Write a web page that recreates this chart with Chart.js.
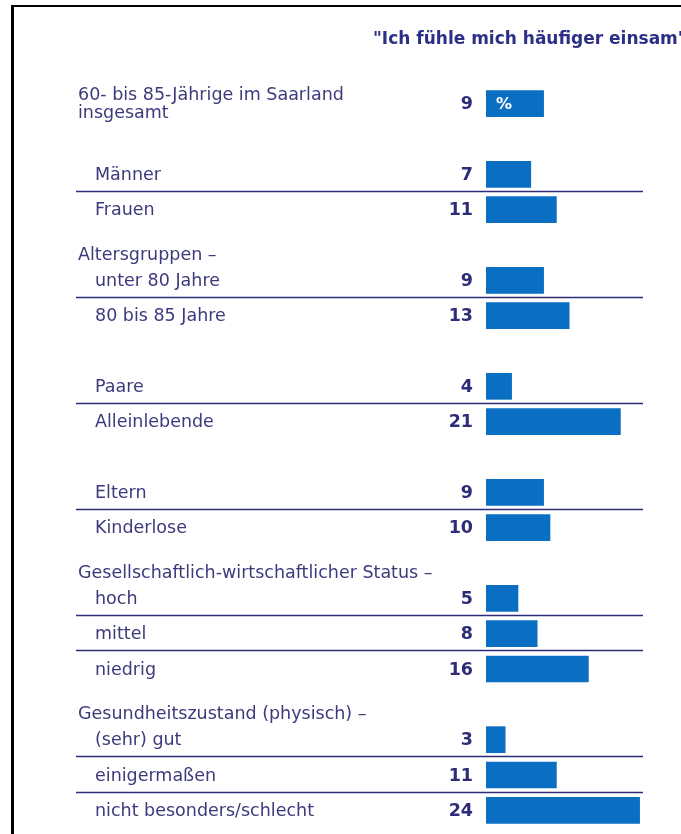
<!DOCTYPE html>
<html>
<head>
<meta charset="utf-8">
<script src="https://cdn.jsdelivr.net/npm/chart.js@4.4.1/dist/chart.umd.min.js"></script>
<style>
  body { margin: 0; background: #fff; }
  .wrap { position: relative; width: 681px; height: 834px; }
</style>
</head>
<body>
<div class="wrap"><canvas id="myChart"></canvas></div>
<script>
const title = '"Ich fühle mich häufiger einsam"'
// rows top to bottom; "" = empty gap row, a label with null value = group heading
const categories = [
  ["60- bis 85-Jährige im Saarland", "insgesamt"],
  "",
  "Männer",
  "Frauen",
  "Altersgruppen –",
  "unter 80 Jahre",
  "80 bis 85 Jahre",
  "",
  "Paare",
  "Alleinlebende",
  "",
  "Eltern",
  "Kinderlose",
  "Gesellschaftlich-wirtschaftlicher Status –",
  "hoch",
  "mittel",
  "niedrig",
  "Gesundheitszustand (physisch) –",
  "(sehr) gut",
  "einigermaßen",
  "nicht besonders/schlecht",
]
const values = [9, null, 7, 11, null, 9, 13, null, 4, 21, null, 9, 10, null, 5, 8, 16, null, 3, 11, 24]
const unit = "%"

const navy = "#2e2c78"
const labelColor = "#3c3a7c"
const barBlue = "#0a6ec2"

const textPlugin = {
  id: "texts",
  afterDatasetsDraw(chart) {
    const ctx = chart.ctx
    const ys = chart.scales.y
    const xs = chart.scales.x
    ctx.save()

    // frame
    ctx.fillStyle = "#000"
    ctx.fillRect(11, 5, 3, 829)
    ctx.fillRect(11, 5, 670, 2)

    // heading
    ctx.fillStyle = "#2c2f87"
    ctx.font = "bold 17px 'DejaVu Sans'"
    ctx.textBaseline = "middle"
    ctx.textAlign = "left"
    ctx.fillText(title, 373, 40)

    categories.forEach((lab, i) => {
      const py = ys.getPixelForValue(i)
      const v = values[i]
      ctx.fillStyle = labelColor
      ctx.font = "17.5px 'DejaVu Sans'"
      ctx.textAlign = "left"
      if (Array.isArray(lab)) {
        ctx.fillText(lab[0], 78, py - 8)
        ctx.fillText(lab[1], 78, py + 10)
      } else if (lab && v === null) {
        // group heading sits just above the next row
        ctx.fillText(lab, 78, ys.getPixelForValue(i + 1) - 25)
      } else if (lab) {
        ctx.fillText(lab, 95, py + 1)
      }

      if (v !== null) {
        ctx.fillStyle = navy
        ctx.font = "bold 17.5px 'DejaVu Sans'"
        ctx.textAlign = "right"
        ctx.fillText(String(v), 473, py + 1)
      }

      // rule between neighbouring rows of the same group
      if (v !== null && values[i + 1] != null && i + 1 < values.length) {
        const ly = Math.round((py + ys.getPixelForValue(i + 1)) / 2) - 0.5
        ctx.strokeStyle = navy
        ctx.lineWidth = 1.3
        ctx.beginPath()
        ctx.moveTo(76, ly)
        ctx.lineTo(643, ly)
        ctx.stroke()
      }
    })

    // unit inside the first bar
    ctx.fillStyle = "#fff"
    ctx.font = "bold 16px 'DejaVu Sans'"
    ctx.textAlign = "left"
    ctx.fillText(unit, xs.getPixelForValue(0) + 10, ys.getPixelForValue(0) + 1)

    ctx.restore()
  }
}

const chart1 = document.getElementById("myChart")
var myChart = new Chart(chart1, {
  type: "bar",
  data: {
    labels: categories,
    datasets: [
      {
        label: "Ich fühle mich häufiger einsam",
        data: values,
        backgroundColor: barBlue,
        borderWidth: 0,
        barThickness: 26,
      },
    ],
  },
  options: {
    indexAxis: "y",
    responsive: true,
    maintainAspectRatio: false,
    animation: false,
    layout: {
      padding: { left: 486, right: 3, top: 86, bottom: 6 },
    },
    scales: {
      x: { display: false, min: 0, max: 30 },
      y: { display: false },
    },
    plugins: {
      legend: { display: false },
      tooltip: { enabled: false },
    },
  },
  plugins: [textPlugin],
})
</script>
</body>
</html>
